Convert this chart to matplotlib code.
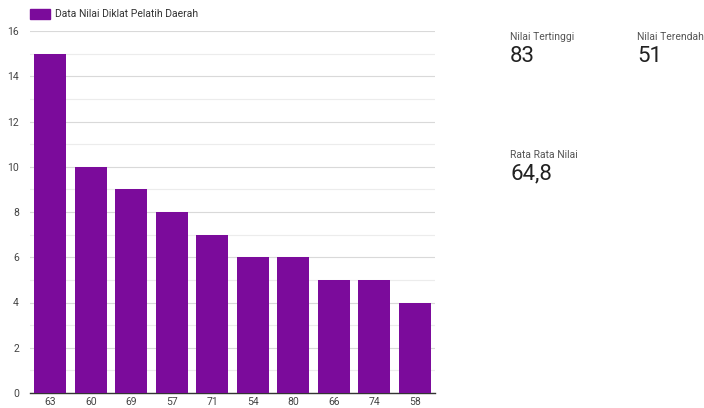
import matplotlib
matplotlib.use("Agg")
import matplotlib.pyplot as plt
from matplotlib.patches import Rectangle

plt.rcParams['font.family'] = ['Roboto', 'DejaVu Sans']

categories = ["63", "60", "69", "57", "71", "54", "80", "66", "74", "58"]
values = [15, 10, 9, 8, 7, 6, 6, 5, 5, 4]
series_name = "Data Nilai Diklat Pelatih Daerah"
stat_labels = ["Nilai Tertinggi", "Nilai Terendah", "Rata Rata Nilai"]
stat_values = ["83", "51", "64,8"]

color = "#7b0b9b"

fig = plt.figure(figsize=(7.04, 4.08), dpi=100)
ax = fig.add_axes([30/704, 1-393/408, (435-30)/704, (393-31)/408])

x = list(range(len(categories)))
ax.bar(x, values, width=0.79, color=color, zorder=3)
ax.set_xlim(-0.5, len(categories)-0.5)
ax.set_ylim(0, 16)
ax.set_yticks(range(0, 17, 2))
ax.set_yticks(range(1, 17, 2), minor=True)
ax.set_xticks(x)
ax.set_xticklabels(categories)
ax.grid(axis='y', which='major', color='#d9d9d9', lw=0.8, zorder=0)
ax.grid(axis='y', which='minor', color='#ececec', lw=0.8, zorder=0)
for s in ['top', 'right', 'left']:
    ax.spines[s].set_visible(False)
ax.spines['bottom'].set_color('#333333')
ax.spines['bottom'].set_linewidth(1.0)
ax.tick_params(axis='both', which='both', length=0, labelsize=7.5, colors='#444444')
ax.tick_params(axis='y', pad=8)
ax.tick_params(axis='x', pad=3)

# legend
fig.patches.append(Rectangle((30/704, 1-19/408), 20/704, 10/408, transform=fig.transFigure,
                             color=color, figure=fig))
fig.text(55/704, 1-14/408, series_name, fontsize=7.5, color='#333333', va='center', ha='left')

# stats
pos = [(510, 37, 57), (637, 37, 57), (510, 155, 174)]
for (px, ly, vy), lab, val in zip(pos, stat_labels, stat_values):
    fig.text(px/704, 1-ly/408, lab, fontsize=7.5, color='#555555', va='center', ha='left')
    fig.text(px/704, 1-vy/408, val, fontsize=16, color='#222222', va='center', ha='left')

fig.savefig("out.png", dpi=100)
